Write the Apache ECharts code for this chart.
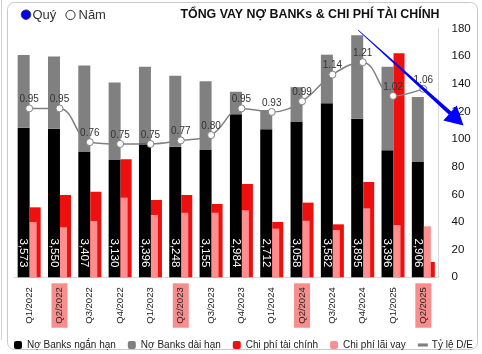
<!DOCTYPE html>
<html>
<head>
<meta charset="utf-8">
<script src="https://cdn.jsdelivr.net/npm/echarts@6/dist/echarts.min.js"></script>
<style>
html,body{margin:0;padding:0;background:#fff;}
#c{width:482px;height:354px;}
</style>
</head>
<body>
<div id="c"></div>
<script>
const quarters = ['Q1/2022','Q2/2022','Q3/2022','Q4/2022','Q1/2023','Q2/2023','Q3/2023','Q4/2023','Q1/2024','Q2/2024','Q3/2024','Q4/2024','Q1/2025','Q2/2025'];
const shortDebt = [108.2,107.5,90.9,84.8,97.4,94.5,92.1,117.9,107.1,112.7,125.9,114.7,91.9,83.4];
const longDebt  = [52.6,52.1,62.2,56.0,54.9,51.3,49.7,16.3,13.9,24.8,35.1,60.3,60.4,47.0];
const finCost   = [50.6,59.5,61.9,85.4,55.9,59.5,53.0,67.5,40.0,54.0,38.3,68.9,162.0,11.1];
const interest  = [40.0,36.2,40.7,57.6,45.1,46.7,46.7,48.5,35.2,40.9,34.2,49.9,37.8,36.9];
const deRatio   = [0.95,0.95,0.76,0.75,0.75,0.77,0.80,0.95,0.93,0.99,1.14,1.21,1.02,1.06];
const debtLabels = ['3,573','3,550','3,407','3,130','3,396','3,248','3,155','2,984','2,712','3,058','3,582','3,895','3,396','2,906'];
const rightAxisMin = 0, rightAxisMax = 180, rightAxisStep = 20;
const names = ['Nợ Banks ngắn hạn','Nợ Banks dài hạn','Chi phí tài chính','Chi phí lãi vay','Tỷ lệ D/E'];

const FONT = '"Liberation Sans", Arial, sans-serif';
const chart = echarts.init(document.getElementById('c'), null, {renderer:'canvas'});

const option = {
  animation: false,
  textStyle: {fontFamily: FONT},
  grid: [
    {left: 14, right: 43.5, top: 28.4, bottom: 76.7},
    {left: 18, right: 39.5, top: 28.4, bottom: 76.7}
  ],
  legend: {
    left: 9, top: 335, width: 462, padding: [5, 0, 5, 5], itemWidth: 8, itemHeight: 8, itemGap: 12,
    textStyle: {fontSize: 10, color: '#222', fontFamily: FONT},
    data: [
      {name: names[0]}, {name: names[1]}, {name: names[2]}, {name: names[3]},
      {name: names[4], icon: 'path://M0,0H10V1.4H0Z', itemStyle: {color: '#808080'}}
    ]
  },
  xAxis: [
    {type: 'category', gridIndex: 0, data: quarters,
     axisLine: {lineStyle: {color: '#d9d9d9'}}, axisTick: {show: false},
     axisLabel: {rotate: 90, margin: 6, interval: 0,
       formatter: v => (v.indexOf('Q2') === 0 ? '{h|' + v + '}' : '{n|' + v + '}'),
       rich: {
         h: {backgroundColor: '#f88d8d', padding: [3, 4, 3, 4], fontSize: 9.5, lineHeight: 11, color: '#222', fontFamily: FONT},
         n: {padding: [3, 4, 3, 4], fontSize: 9.5, lineHeight: 11, color: '#222', fontFamily: FONT}
       }}},
    {type: 'category', gridIndex: 1, data: quarters, show: false}
  ],
  yAxis: [
    {type: 'value', gridIndex: 0, min: 0, max: 180, show: false},
    {type: 'value', gridIndex: 0, position: 'right', min: rightAxisMin, max: rightAxisMax, interval: rightAxisStep,
     axisLine: {show: true, lineStyle: {color: '#d9d9d9'}}, axisTick: {show: false}, splitLine: {show: false},
     axisLabel: {margin: 13, fontSize: 11.5, color: '#111'}},
    {type: 'value', gridIndex: 0, min: 0, max: 1.4, show: false},
    {type: 'value', gridIndex: 1, min: rightAxisMin, max: rightAxisMax, show: false}
  ],
  series: [
    {name: names[0], type: 'bar', xAxisIndex: 0, yAxisIndex: 0, stack: 'debt', barWidth: 12, barGap: 0,
     itemStyle: {color: '#000'}, data: shortDebt,
     label: {show: true, position: 'insideBottom', distance: 10, rotate: -90, align: 'right', verticalAlign: 'middle',
       color: '#fff', fontSize: 11.5, fontFamily: FONT, formatter: p => debtLabels[p.dataIndex]}},
    {name: names[1], type: 'bar', xAxisIndex: 0, yAxisIndex: 0, stack: 'debt', barWidth: 12, barGap: 0,
     itemStyle: {color: '#808080'}, data: longDebt},
    {name: names[2], type: 'bar', xAxisIndex: 0, yAxisIndex: 1, barWidth: 11, barGap: 0,
     itemStyle: {color: '#ee0f0f'}, data: finCost},
    {name: names[3], type: 'bar', xAxisIndex: 1, yAxisIndex: 3, barWidth: 7,
     itemStyle: {color: '#ff8f8f'}, data: interest},
    {name: names[4], type: 'line', xAxisIndex: 0, yAxisIndex: 2, smooth: 0.4, z: 5,
     color: '#808080', lineStyle: {color: '#808080', width: 1.5},
     symbol: 'circle', symbolSize: 7, itemStyle: {color: '#fff', borderColor: '#808080', borderWidth: 1},
     label: {show: true, position: 'top', distance: 0, fontSize: 10, color: '#333', fontFamily: FONT,
       formatter: p => p.value.toFixed(2)},
     data: deRatio}
  ],
  graphic: [
    {type: 'rect', z: -10, shape: {x: 7.5, y: 2.5, width: 470, height: 347, r: 7},
     style: {fill: 'none', stroke: '#c8c8c8', lineWidth: 1}},
    {type: 'line', z: -10, shape: {x1: 1.5, y1: 0, x2: 1.5, y2: 340}, style: {stroke: '#d0d0d0', lineWidth: 1}},
    {type: 'circle', shape: {cx: 26, cy: 14.7, r: 4.8}, style: {fill: '#0000ee', stroke: '#333', lineWidth: 0.8}},
    {type: 'text', x: 32.5, y: 15, style: {text: 'Quý', fontSize: 13, fill: '#333', verticalAlign: 'middle', fontFamily: FONT}},
    {type: 'circle', shape: {cx: 70.5, cy: 15, r: 4.6}, style: {fill: '#fff', stroke: '#333', lineWidth: 1}},
    {type: 'text', x: 78.5, y: 15, style: {text: 'Năm', fontSize: 13, fill: '#333', verticalAlign: 'middle', fontFamily: FONT}},
    {type: 'text', x: 310, y: 14.5, style: {text: 'TỔNG VAY NỢ BANKs & CHI PHÍ TÀI CHÍNH', fontSize: 12.4, fontWeight: 'bold',
      fill: '#111', align: 'center', verticalAlign: 'middle', fontFamily: FONT}},
    {type: 'polygon', z: 100, shape: {points: [[358.2, 29.8], [357.8, 30.2], [448.7, 114.5], [443.3, 120.4], [463.5, 125.5], [456.7, 105.6], [451.3, 111.5]]},
     style: {fill: '#0000ff'}}
  ]
};
chart.setOption(option);
</script>
</body>
</html>
